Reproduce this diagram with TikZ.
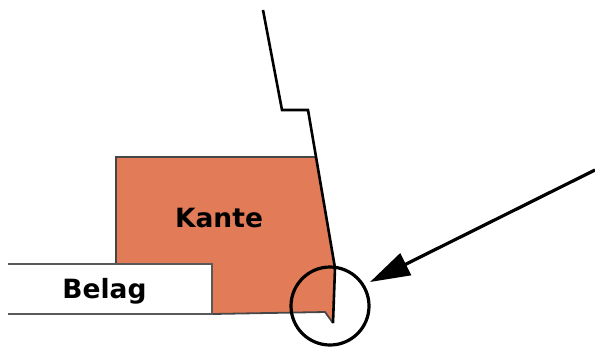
\documentclass[tikz,border=0pt]{standalone}
\usepackage{fontspec}
\setmainfont{DejaVu Sans}
\usetikzlibrary{arrows.meta}
\definecolor{kante}{RGB}{226,124,88}
\definecolor{edge}{RGB}{70,70,70}
\tikzset{
  lbl/.style={font=\fontsize{26.5bp}{30bp}\selectfont\bfseries, text=black, inner sep=0pt, anchor=base},
  outline/.style={draw=edge, line width=1.8bp},
  profile/.style={draw=black, line width=2.6bp, line join=miter},
  ring/.style={draw=black, line width=3.2bp, circle, minimum size=78bp, inner sep=0pt},
  pointer/.style={draw=black, line width=3.2bp, -{Triangle[length=40bp,width=24bp]}}
}
\begin{document}
\begin{tikzpicture}[x=1bp,y=-1bp]
\useasboundingbox (0,0) rectangle (595,349);
% Kante fill
\fill[kante] (116,157) -- (316,157) -- (335,268) -- (333,323) -- (325,312) -- (212,314) -- (212,264) -- (116,264) -- cycle;
\draw[outline] (116,264) -- (116,157) -- (316,157);
\draw[outline] (212,314) -- (325,312) -- (333,323);
% Belag
\fill[white] (8,264) rectangle (212,314);
\draw[outline, draw=black!65] (8,264) -- (212,264) -- (212,314) -- (8,314);
% profile line
\draw[profile] (263,10) -- (282,110) -- (308,110) -- (335,268) -- (333,323);
% labels
\node[lbl] (kante) at (219,227) {Kante};
\node[lbl] (belag) at (104.5,298) {Belag};
% circle and arrow
\node[ring] (ring) at (330,306) {};
\coordinate (start) at (595,170);
\coordinate (tip) at (370,282);
\draw[pointer] (start) -- (tip);
\end{tikzpicture}
\end{document}
